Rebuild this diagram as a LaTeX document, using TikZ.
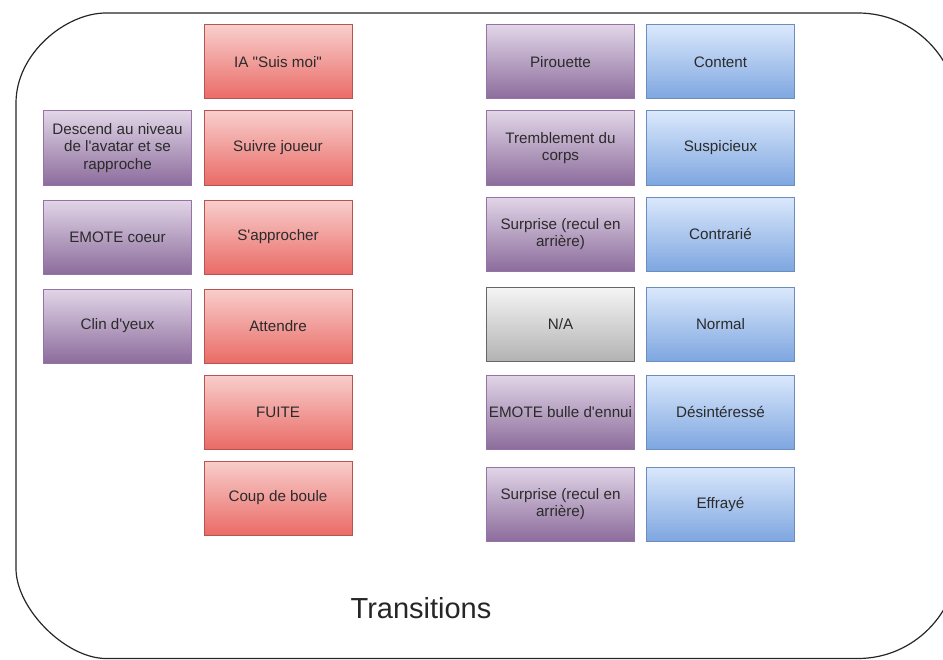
\documentclass[tikz,border=0pt]{standalone}
\usepackage{fontspec}
\setmainfont{Liberation Sans}
\begin{document}
\definecolor{txt}{HTML}{2B2B2B}
\definecolor{redtop}{HTML}{F8CECC}\definecolor{redbot}{HTML}{EA6B66}\definecolor{redline}{HTML}{B85450}
\definecolor{purtop}{HTML}{E1D5E7}\definecolor{purbot}{HTML}{8C6C9C}\definecolor{purline}{HTML}{9673A6}
\definecolor{blutop}{HTML}{DAE8FC}\definecolor{blubot}{HTML}{7EA6E0}\definecolor{bluline}{HTML}{6C8EBF}
\definecolor{grytop}{HTML}{F5F5F5}\definecolor{grybot}{HTML}{B3B3B3}\definecolor{gryline}{HTML}{666666}
\newcommand{\ap}{\textquotesingle}
\newcommand{\dq}{\textquotedbl}
\begin{tikzpicture}[x=0.75pt,y=-0.75pt,
  card/.style={rectangle, minimum width=111pt, minimum height=55.5pt, inner sep=2pt,
    line width=0.75pt, align=center, text=txt,
    font=\fontsize{11.4}{12.9}\selectfont},
  redcard/.style={card, draw=redline, top color=redtop, bottom color=redbot},
  purcard/.style={card, draw=purline, top color=purtop, bottom color=purbot},
  blucard/.style={card, draw=bluline, top color=blutop, bottom color=blubot},
  grycard/.style={card, draw=gryline, top color=grytop, bottom color=grybot},
  frame/.style={draw=black!85, line width=0.9pt}]
\useasboundingbox (0,0) rectangle (943,660);
% outer container with rounded corners, running past the right edge
\begin{scope}
  \clip (0,0) rectangle (943,660);
  \draw[frame] (16,103) .. controls (16,53.3) and (65.7,13) .. (106,13)
    -- (858,13) .. controls (913.2,13) and (958,57.8) .. (958,113)
    -- (958,558) .. controls (958,613.2) and (913.2,658.5) .. (858,658.5)
    -- (106,658.5) .. controls (65.7,658.5) and (16,608.8) .. (16,568.5)
    -- cycle;
\end{scope}
% left column
\node[purcard] (descend) at (117.5,148) {Descend au niveau\\de l\ap avatar et se\\rapproche};
\node[purcard] (coeur) at (117.5,237) {EMOTE coeur};
\node[purcard] (clin) at (117.5,326) {Clin d\ap yeux};
% behaviour column
\node[redcard] (ia) at (278,62) {IA \dq Suis moi\dq};
\node[redcard] (suivre) at (278,148) {Suivre joueur};
\node[redcard] (approcher) at (278,237) {S\ap approcher};
\node[redcard] (attendre) at (278,326) {Attendre};
\node[redcard] (fuite) at (278,412) {FUITE};
\node[redcard] (coup) at (278,498) {Coup de boule};
% reactions
\node[purcard] (pirouette) at (560.5,62) {Pirouette};
\node[purcard] (tremble) at (560.5,148) {Tremblement du\\corps};
\node[purcard] (surprise1) at (560.5,234) {Surprise (recul en\\arrière)};
\node[grycard] (na) at (560.5,324) {N/A};
\node[purcard] (ennui) at (560.5,412) {EMOTE bulle d\ap ennui};
\node[purcard] (surprise2) at (560.5,504) {Surprise (recul en\\arrière)};
% moods
\node[blucard] (content) at (720.5,62) {Content};
\node[blucard] (suspicieux) at (720.5,148) {Suspicieux};
\node[blucard] (contrarie) at (720.5,234) {Contrarié};
\node[blucard] (normal) at (720.5,324) {Normal};
\node[blucard] (desint) at (720.5,412) {Désintéressé};
\node[blucard] (effraye) at (720.5,504) {Effrayé};
% caption
\node[text=black!85, font=\fontsize{21.75}{26}\selectfont] (title) at (421,608) {Transitions};
\end{tikzpicture}
\end{document}
